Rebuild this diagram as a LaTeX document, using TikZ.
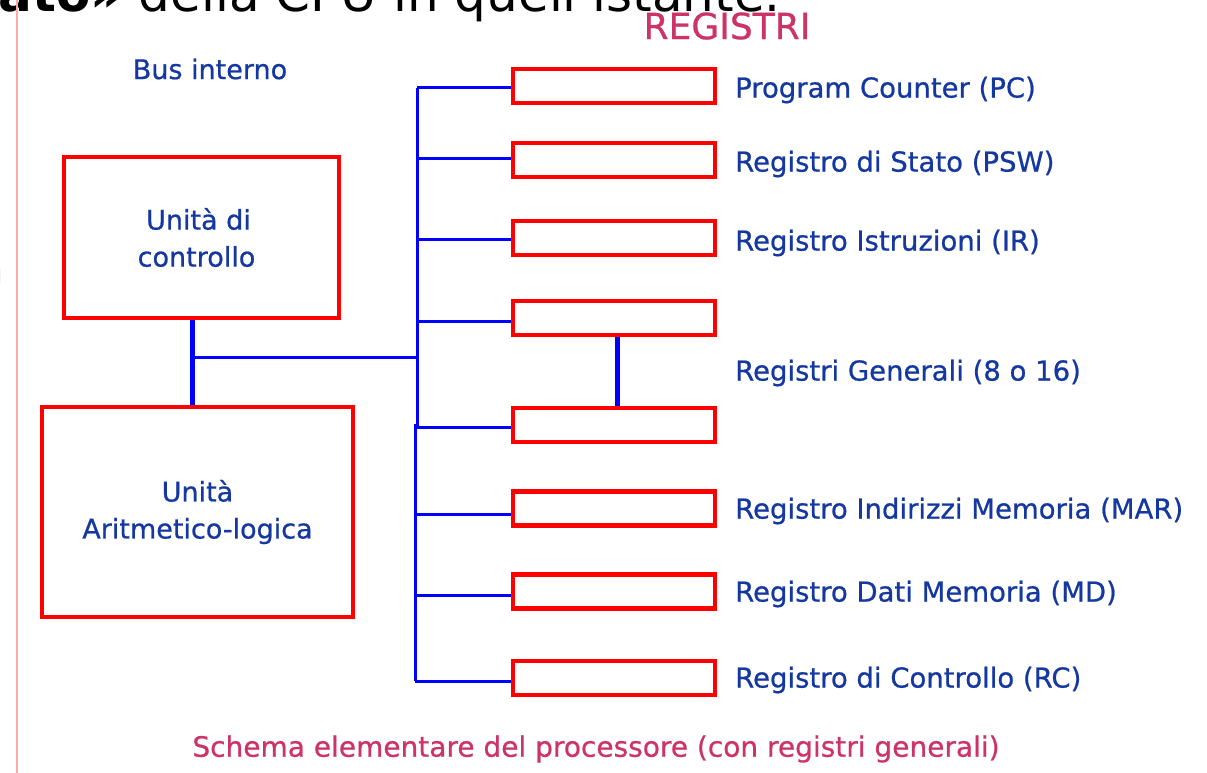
\documentclass[tikz,border=0pt]{standalone}
\usepackage{fontspec}
\setmainfont{DejaVu Sans}
\newfontfamily\lblfont[FakeBold=0.7]{DejaVu Sans}
\definecolor{regred}{RGB}{255,0,0}
\definecolor{busblue}{RGB}{0,0,255}
\definecolor{txtblue}{RGB}{20,55,160}
\definecolor{capink}{RGB}{204,51,102}
\definecolor{margin}{RGB}{255,170,170}
\tikzset{
  unitbox/.style={draw=regred, line width=4.5pt, fill=white, inner sep=0pt, align=center,
    text=txtblue, font=\lblfont\fontsize{27}{37}\selectfont},
  regbox/.style={draw=regred, line width=4.5pt, minimum width=202pt, minimum height=34pt, inner sep=0pt},
  reglabel/.style={anchor=west, text=txtblue, font=\lblfont\fontsize{27.5}{32}\selectfont, inner sep=0pt},
  busline/.style={draw=busblue, line width=3pt},
  thickbus/.style={draw=busblue, line width=5pt},
  pinktext/.style={text=capink, inner sep=0pt},
}
\begin{document}
\begin{tikzpicture}[x=1pt,y=-1pt]
\useasboundingbox (0,0) rectangle (1207,773);
\begin{scope}
\clip (0,0) rectangle (1207,773);
% clipped slide text fragments
\node[anchor=base east, inner sep=0pt, font=\fontsize{50}{60}\selectfont] (toptext) at (781,12) {\textbf{ato»} della CPU in quell'istante.};
\node[anchor=east, inner sep=0pt, font=\fontsize{42}{50}\selectfont] (leftn) at (4,272) {n};
\node[anchor=east, inner sep=0pt, font=\fontsize{30}{36}\selectfont, text=gray] (leftc) at (2,210) {:};
\draw[margin, line width=2pt] (17,0) -- (17,773);
\end{scope}

% titles
\node[pinktext, font=\lblfont\fontsize{36}{40}\selectfont] (regtitle) at (727,26) {REGISTRI};
\node[text=txtblue, inner sep=0pt, font=\lblfont\fontsize{27}{32}\selectfont] (busname) at (210,69) {Bus interno};
\node[pinktext, font=\lblfont\fontsize{28}{32}\selectfont] (caption) at (596,749) {Schema elementare del processore (con registri generali)};

% units
\node[unitbox, minimum width=275pt, minimum height=161pt] (cu) at (201.5,237.5) {Unità di\hspace*{6pt}\\controllo\hspace*{10pt}};
\node[unitbox, minimum width=311pt, minimum height=210pt] (alu) at (197.5,512) {Unità\\Aritmetico-logica};

% registers
\node[regbox] (pc)  at (614,86) {};
\node[regbox] (psw) at (614,160) {};
\node[regbox] (ir)  at (614,238) {};
\node[regbox] (g1)  at (614,318) {};
\node[regbox] (g2)  at (614,425) {};
\node[regbox] (mar) at (614,508.5) {};
\node[regbox] (md)  at (614,591.5) {};
\node[regbox] (rc)  at (614,678) {};

% register labels
\node[reglabel] (lpc)  at (735,90)  {Program Counter (PC)};
\node[reglabel] (lpsw) at (735,164) {Registro di Stato (PSW)};
\node[reglabel] (lir)  at (735,243) {Registro Istruzioni (IR)};
\node[reglabel] (lg)   at (735,373) {Registri Generali (8 o 16)};
\node[reglabel] (lmar) at (735,511) {Registro Indirizzi Memoria (MAR)};
\node[reglabel] (lmd)  at (735,594) {Registro Dati Memoria (MD)};
\node[reglabel] (lrc)  at (735,680) {Registro di Controllo (RC)};

% bus
\coordinate (busA) at (417,0);
\coordinate (busB) at (415,0);
\coordinate (j) at (192,357);
\draw[thickbus] (j |- cu.south) -- (j |- alu.north);
\draw[busline] (j) -- (j -| busA);
\draw[busline] ([yshift=-2pt]pc.west -| busA) -- ([yshift=-2pt]g2.west -| busA);
\draw[busline] ([yshift=1pt]g2.west -| busB) -- ([yshift=-3pt]rc.west -| busB);
\draw[busline] ([yshift=-2pt]pc.west -| busA) -- ([yshift=-2pt]pc.west);
\draw[busline] ([yshift=2pt]psw.west -| busA) -- ([yshift=2pt]psw.west);
\draw[busline] ([yshift=-1pt]ir.west -| busA) -- ([yshift=-1pt]ir.west);
\draw[busline] ([yshift=-3pt]g1.west -| busA) -- ([yshift=-3pt]g1.west);
\draw[busline] ([yshift=-2pt]g2.west -| busA) -- ([yshift=-2pt]g2.west);
\draw[busline] ([yshift=-6pt]mar.west -| busB) -- ([yshift=-6pt]mar.west);
\draw[busline] ([yshift=-4pt]md.west -| busB) -- ([yshift=-4pt]md.west);
\draw[busline] ([yshift=-3pt]rc.west -| busB) -- ([yshift=-3pt]rc.west);
\draw[thickbus] ([xshift=3pt]g1.south) -- ([xshift=3pt]g2.north);
\end{tikzpicture}
\end{document}
